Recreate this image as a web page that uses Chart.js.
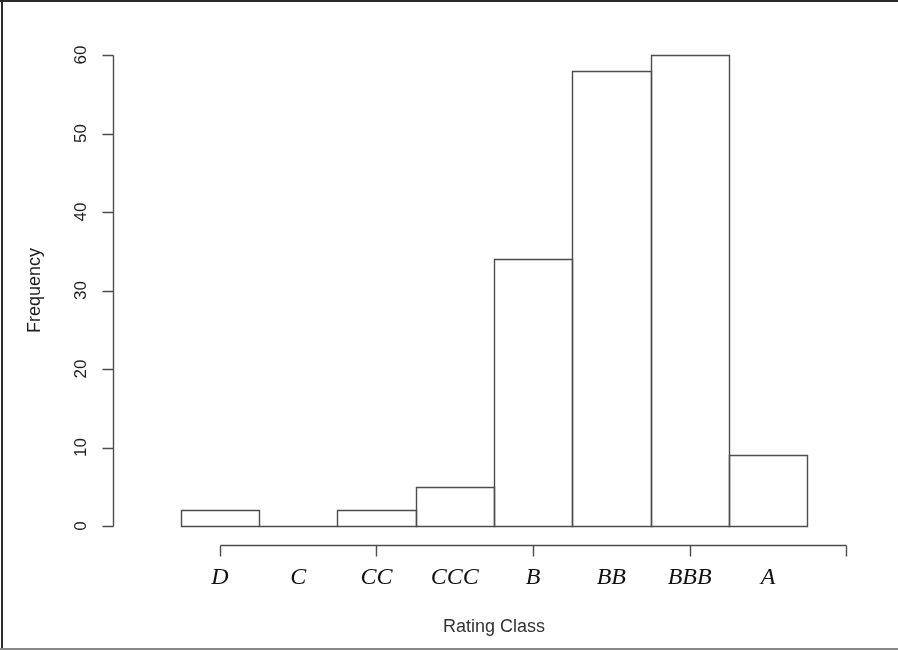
<!DOCTYPE html>
<html><head><meta charset="utf-8">
<script src="https://cdn.jsdelivr.net/npm/chart.js@4/dist/chart.umd.min.js"></script>
<style>html,body{margin:0;padding:0;background:#fff}#wrap{width:898px;height:650px;position:relative}</style>
</head><body><div id="wrap"><canvas id="c" width="898" height="650"></canvas></div>
<script>
const ratingClasses = ['D', 'C', 'CC', 'CCC', 'B', 'BB', 'BBB', 'A'];
const frequencies = [2, 0, 2, 5, 34, 58, 60, 9];
const yTicks = [0, 10, 20, 30, 40, 50, 60];
const xAxisTicks = [1, 3, 5, 7, 9];
const yTitle = 'Frequency';
const xTitle = 'Rating Class';

const LINE = '#4d4d4d';
const TEXT = '#1e1e1e';

const rPlot = {
  id: 'rPlot',
  afterDraw(chart) {
    const ctx = chart.ctx;
    const xs = chart.scales.x, ys = chart.scales.y;
    const area = chart.chartArea;
    ctx.save();
    ctx.strokeStyle = LINE;
    ctx.lineWidth = 1.4;
    // bar outlines (R hist style)
    const meta = chart.getDatasetMeta(0);
    meta.data.forEach(el => {
      const p = el.getProps(['x', 'y', 'base', 'width'], true);
      const l = Math.round(p.x - p.width / 2) + 0.5;
      const r = Math.round(p.x + p.width / 2) + 0.5;
      const t = Math.round(p.y) + 0.5;
      const b = Math.round(p.base) + 0.5;
      ctx.beginPath();
      ctx.rect(l, t, r - l, b - t);
      if (b - t === 0) { ctx.moveTo(l, b); ctx.lineTo(r, b); }
      ctx.stroke();
    });
    // y axis
    const yx = Math.round(area.left) + 0.5;
    const y0 = Math.round(ys.getPixelForValue(yTicks[0])) + 0.5;
    const y1 = Math.round(ys.getPixelForValue(yTicks[yTicks.length - 1])) + 0.5;
    ctx.beginPath();
    ctx.moveTo(yx, y0); ctx.lineTo(yx, y1);
    yTicks.forEach(v => {
      const py = Math.round(ys.getPixelForValue(v)) + 0.5;
      ctx.moveTo(yx, py); ctx.lineTo(yx - 11, py);
    });
    ctx.stroke();
    ctx.fillStyle = TEXT;
    ctx.font = '17px "Liberation Sans", Arial, sans-serif';
    ctx.textAlign = 'center';
    ctx.textBaseline = 'alphabetic';
    yTicks.forEach(v => {
      const py = ys.getPixelForValue(v);
      ctx.save();
      ctx.translate(86, py);
      ctx.rotate(-Math.PI / 2);
      ctx.fillText(String(v), 0, 0);
      ctx.restore();
    });
    // y title
    ctx.font = '18px "Liberation Sans", Arial, sans-serif';
    ctx.save();
    ctx.translate(40, (area.top + area.bottom) / 2);
    ctx.rotate(-Math.PI / 2);
    ctx.fillText(yTitle, 0, 0);
    ctx.restore();
    // x axis (offset below plot, R style)
    const ay = Math.round(area.bottom) + 19.5;
    const ax0 = Math.round(xs.getPixelForValue(xAxisTicks[0])) + 0.5;
    const ax1 = Math.round(xs.getPixelForValue(xAxisTicks[xAxisTicks.length - 1])) + 0.5;
    ctx.beginPath();
    ctx.moveTo(ax0, ay); ctx.lineTo(ax1, ay);
    xAxisTicks.forEach(v => {
      const px = Math.round(xs.getPixelForValue(v)) + 0.5;
      ctx.moveTo(px, ay); ctx.lineTo(px, ay + 11);
    });
    ctx.stroke();
    // category labels
    ctx.fillStyle = '#111';
    ctx.font = 'italic 24px "Liberation Serif", "Times New Roman", serif';
    ratingClasses.forEach((lab, i) => {
      ctx.fillText(lab, xs.getPixelForValue(i + 1), ay + 38.5);
    });
    // x title
    ctx.fillStyle = '#333';
    ctx.font = '18px "Liberation Sans", Arial, sans-serif';
    ctx.fillText(xTitle, (area.left + area.right) / 2, 632);
    // frame
    ctx.fillStyle = '#2a2a2a';
    ctx.fillRect(0, 0, 898, 2);
    ctx.fillRect(1, 0, 2, 650);
    ctx.fillStyle = '#888';
    ctx.fillRect(0, 648, 898, 2);
    ctx.restore();
  }
};

new Chart(document.getElementById('c'), {
  type: 'bar',
  data: {
    datasets: [{
      label: yTitle,
      data: frequencies.map((f, i) => ({ x: i + 1, y: f })),
      backgroundColor: '#ffffff',
      borderWidth: 0,
      barPercentage: 1,
      categoryPercentage: 1
    }]
  },
  options: {
    responsive: false,
    devicePixelRatio: 1,
    animation: false,
    layout: { padding: { left: 113, right: 23, top: 55, bottom: 124 } },
    plugins: { legend: { display: false }, tooltip: { enabled: false } },
    scales: {
      x: { type: 'linear', min: -0.365, max: 9.367, offset: false, display: false },
      y: { min: 0, max: 60, display: false }
    }
  },
  plugins: [rPlot]
});
</script>
</body></html>
